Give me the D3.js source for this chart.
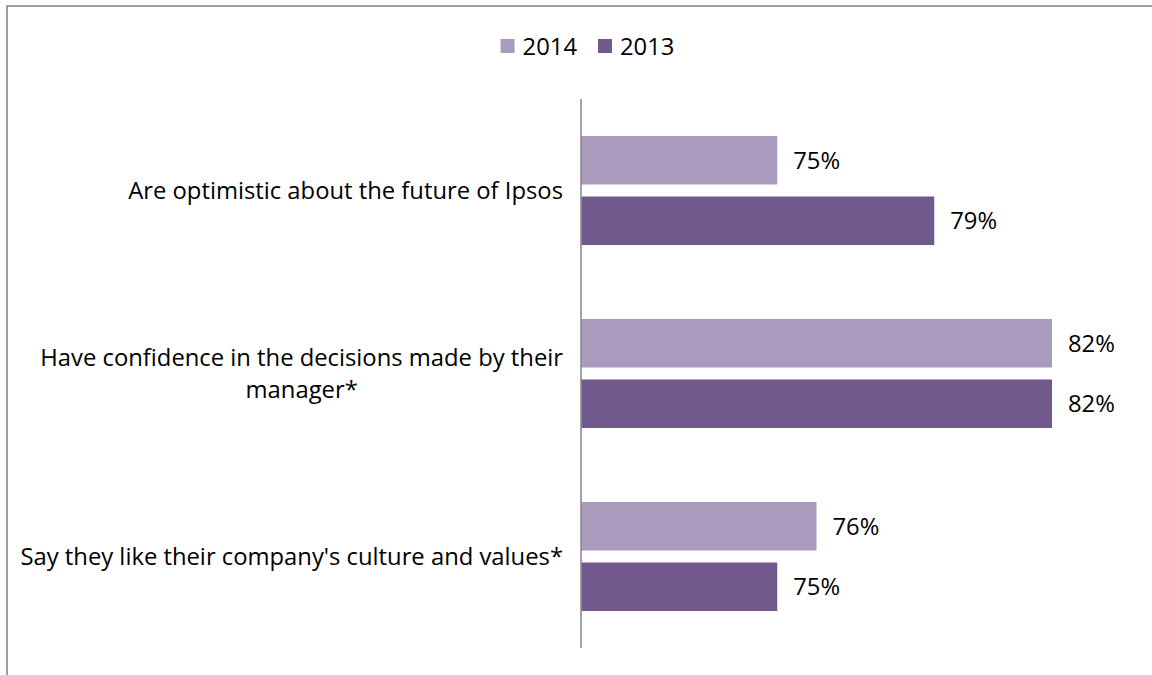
<!DOCTYPE html>
<html>
<head>
<meta charset="utf-8">
<script src="https://cdn.jsdelivr.net/npm/d3@7"></script>
<style>
  html, body { margin: 0; padding: 0; background: #fff; }
  svg { display: block; }
  text { font-family: "Open Sans", "Noto Sans", sans-serif; fill: #000; }
</style>
</head>
<body>
<svg id="chart" width="1152" height="675"></svg>
<script>
// Survey statements (top to bottom)
const categories = [
  "Are optimistic about the future of Ipsos",
  "Have confidence in the decisions made by their manager*",
  "Say they like their company's culture and values*"
];
// Series, in legend order
const seriesNames = ["2014", "2013"];
const values2014 = [75, 82, 76];
const values2013 = [79, 82, 75];
const seriesColors = ["#A99ABE", "#72598D"];

const fontSize = 23.8;
const svg = d3.select("#chart");

// Outer frame (top and left edges visible)
svg.append("rect")
  .attr("x", 7).attr("y", 6)
  .attr("width", 1200).attr("height", 700)
  .attr("fill", "none")
  .attr("stroke", "#898989")
  .attr("stroke-width", 1.6);

// Scales
const plotTop = 99, plotBottom = 648;
const xMin = 70;
const x = d3.scaleLinear().domain([xMin, 82]).range([581, 1052]);
const y0 = d3.scaleBand().domain(categories).range([plotTop, plotBottom]).padding(0);
const y1 = d3.scaleBand().domain(seriesNames).range([0, y0.bandwidth()])
  .paddingInner(0.198).paddingOuter(0.611);

const rows = categories.map((c, i) => ({
  category: c,
  bars: [
    { series: "2014", value: values2014[i], color: seriesColors[0] },
    { series: "2013", value: values2013[i], color: seriesColors[1] }
  ]
}));

// Bars
const groups = svg.append("g").selectAll("g")
  .data(rows).join("g")
  .attr("transform", d => `translate(0,${y0(d.category)})`);

groups.selectAll("rect")
  .data(d => d.bars).join("rect")
  .attr("x", x(xMin))
  .attr("y", d => y1(d.series))
  .attr("width", d => x(d.value) - x(xMin))
  .attr("height", y1.bandwidth())
  .attr("fill", d => d.color);

// Value labels
groups.selectAll("text.value")
  .data(d => d.bars).join("text")
  .attr("class", "value")
  .attr("x", d => x(d.value) + 16)
  .attr("y", d => y1(d.series) + y1.bandwidth() / 2)
  .attr("dy", "0.36em")
  .attr("font-size", fontSize)
  .text(d => d.value + "%");

// Vertical category axis line
svg.append("line")
  .attr("x1", x(xMin)).attr("x2", x(xMin))
  .attr("y1", plotTop).attr("y2", plotBottom)
  .attr("stroke", "#8c8c8c")
  .attr("stroke-width", 1.6);

// Category labels: wrap to a max width, lines centred in a right-aligned block
const labelRight = 563;
const maxLabelWidth = 565;
const lineHeight = 32;

categories.forEach(cat => {
  const g = svg.append("g");
  const words = cat.split(" ");
  const lines = [];
  let cur = [];
  const probe = g.append("text").attr("font-size", fontSize);
  words.forEach(w => {
    const test = cur.concat([w]).join(" ");
    probe.text(test);
    if (probe.node().getComputedTextLength() > maxLabelWidth && cur.length) {
      lines.push(cur.join(" "));
      cur = [w];
    } else {
      cur.push(w);
    }
  });
  lines.push(cur.join(" "));
  probe.remove();

  const t = g.append("text").attr("font-size", fontSize).attr("text-anchor", "middle");
  lines.forEach(l => t.append("tspan").text(l));
  const widths = t.selectAll("tspan").nodes().map(n => n.getComputedTextLength());
  const blockW = d3.max(widths);
  const cx = labelRight - blockW / 2;
  const cy = y0(cat) + y0.bandwidth() / 2;
  const firstY = cy - (lines.length - 1) * lineHeight / 2;
  t.selectAll("tspan")
    .attr("x", cx)
    .attr("y", (d, i) => firstY + i * lineHeight)
    .attr("dy", "0.36em");
});

// Legend
const legend = svg.append("g");
let lx = 0;
seriesNames.forEach((s, i) => {
  const item = legend.append("g").attr("transform", `translate(${lx},0)`);
  item.append("rect")
    .attr("x", 0).attr("y", -7)
    .attr("width", 14).attr("height", 14)
    .attr("fill", seriesColors[i]);
  const tx = item.append("text")
    .attr("x", 22).attr("y", 0).attr("dy", "0.36em")
    .attr("font-size", fontSize)
    .text(s);
  lx += 22 + tx.node().getComputedTextLength() + 21;
});
const legendW = lx - 21;
legend.attr("transform", `translate(${587.5 - legendW / 2},46)`);
</script>
</body>
</html>
